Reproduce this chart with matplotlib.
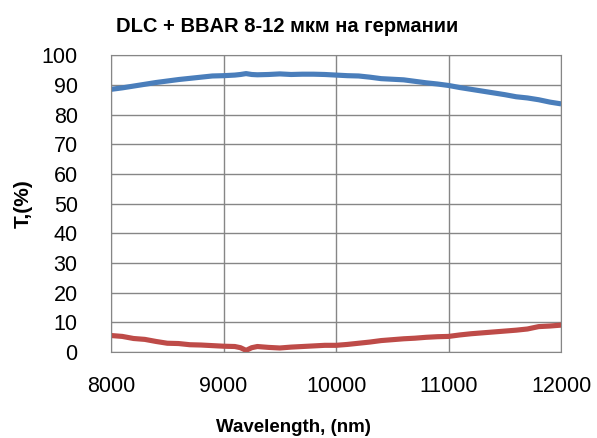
import matplotlib
matplotlib.use("Agg")
import matplotlib.pyplot as plt

# wavelength grid (nm)
wavelength = [8000, 8100, 8200, 8300, 8400, 8500, 8600, 8700, 8800, 8900,
              9000, 9100, 9150, 9200, 9250, 9300, 9400, 9500, 9600, 9700,
              9800, 9900, 10000, 10100, 10200, 10300, 10400, 10500, 10600, 10700,
              10800, 10900, 11000, 11100, 11200, 11300, 11400, 11500, 11600, 11700,
              11800, 11900, 12000]

# transmission, %
trans = [88.5, 89.0, 89.6, 90.2, 90.8, 91.3, 91.8, 92.2, 92.6, 93.0,
         93.1, 93.3, 93.5, 93.8, 93.5, 93.4, 93.5, 93.7, 93.5, 93.6,
         93.6, 93.5, 93.3, 93.1, 93.0, 92.6, 92.1, 91.9, 91.7, 91.2,
         90.7, 90.3, 89.8, 89.1, 88.5, 87.9, 87.3, 86.7, 86.0, 85.6,
         85.0, 84.2, 83.6]

# reflection, %
refl = [5.6, 5.3, 4.6, 4.3, 3.6, 3.0, 2.9, 2.5, 2.4, 2.2,
        2.0, 1.9, 1.5, 0.6, 1.5, 1.9, 1.6, 1.4, 1.7, 1.9,
        2.1, 2.3, 2.3, 2.6, 3.0, 3.4, 3.9, 4.2, 4.5, 4.7,
        5.0, 5.2, 5.3, 5.8, 6.2, 6.5, 6.8, 7.1, 7.4, 7.8,
        8.6, 8.8, 9.1]

x_ticks = [8000, 9000, 10000, 11000, 12000]
y_ticks = list(range(0, 101, 10))

plt.rcParams['font.family'] = ['Liberation Sans', 'DejaVu Sans']

fig = plt.figure(figsize=(5.97, 4.38), dpi=100)
ax = fig.add_axes([0.186, 0.196, 0.754, 0.678])

ax.plot(wavelength, trans, color='#4A7EBB', linewidth=3.7, solid_capstyle='butt')
ax.plot(wavelength, refl, color='#BE4B48', linewidth=3.7, solid_capstyle='butt')

ax.set_xlim(8000, 12000)
ax.set_ylim(0, 100)
ax.set_xticks(x_ticks)
ax.set_yticks(y_ticks)
ax.grid(True, color='#868686', linewidth=1)
ax.set_axisbelow(True)
for s in ax.spines.values():
    s.set_color('#868686')
ax.tick_params(length=0, labelsize=15.5)
ax.tick_params(axis='x', pad=17)
ax.tick_params(axis='y', pad=24)

fig.text(287 / 597, 1 - 26 / 438, 'DLC + BBAR 8-12 мкм на германии',
         ha='center', va='center', fontsize=14.5, fontweight='bold')
fig.text(293 / 597, 1 - 427 / 438, 'Wavelength, (nm)',
         ha='center', va='center', fontsize=13.5, fontweight='bold')
fig.text(23 / 597, 1 - 204 / 438, 'T,(%)', rotation=90,
         ha='center', va='center', fontsize=15, fontweight='bold')

fig.savefig('out.png', dpi=100)
